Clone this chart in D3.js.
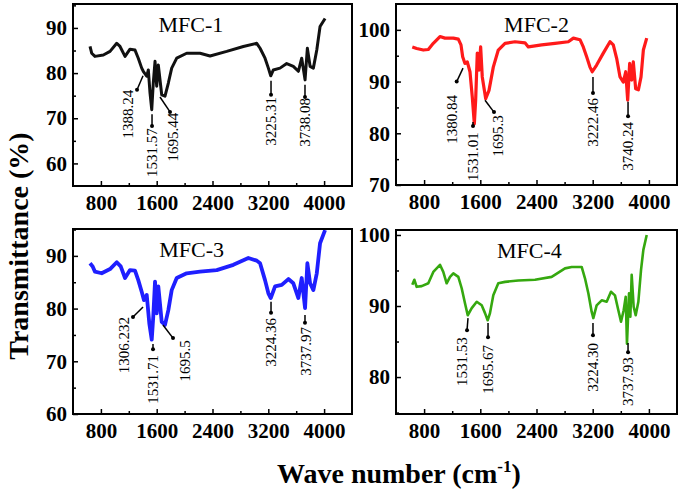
<!DOCTYPE html>
<html>
<head>
<meta charset="utf-8">
<script src="https://cdn.jsdelivr.net/npm/d3@7"></script>
<style>
  body { margin: 0; background: #fff; }
  svg { display: block; }
  text { font-family: "Liberation Serif", "Times New Roman", serif; }
</style>
</head>
<body>
<svg id="chart" width="679" height="495"></svg>
<script>
// Wavenumber (cm-1) / transmittance (%)
const wn1 = [644, 668, 715, 835, 931, 1027, 1074, 1146, 1217, 1289, 1336, 1385, 1408, 1457, 1480, 1504, 1529, 1551, 1576, 1600, 1623, 1672, 1719, 1767, 1815, 1887, 2030, 2221, 2365, 2604, 2842, 3034, 3082, 3153, 3201, 3235, 3272, 3368, 3464, 3559, 3631, 3679, 3727, 3760, 3799, 3846, 3895, 3942, 4014];
const t1 = [85.9, 84.4, 83.7, 84.0, 84.8, 86.6, 85.9, 83.7, 85.3, 85.1, 83.3, 81.1, 80.4, 79.3, 80.7, 75.6, 71.9, 77.8, 82.6, 77.1, 81.8, 75.2, 74.9, 77.8, 81.1, 83.3, 84.4, 84.4, 83.8, 84.8, 85.9, 86.6, 85.5, 83.3, 81.1, 79.4, 80.7, 81.1, 82.1, 81.5, 80.4, 83.3, 78.5, 85.5, 81.5, 81.1, 85.1, 90.3, 92.1];

const wn2 = [632, 694, 789, 860, 931, 1026, 1097, 1216, 1287, 1325, 1349, 1382, 1415, 1453, 1486, 1515, 1534, 1557, 1581, 1605, 1628, 1677, 1724, 1785, 1856, 1952, 2094, 2236, 2284, 2474, 2663, 2853, 2925, 3019, 3066, 3114, 3161, 3194, 3256, 3351, 3446, 3493, 3541, 3589, 3636, 3670, 3698, 3726, 3755, 3778, 3812, 3850, 3888, 3921, 3969];
const t2 = [96.7, 96.4, 96.1, 96.2, 97.4, 98.7, 98.4, 98.4, 98.2, 97.1, 94.8, 93.5, 93.8, 91.9, 87.0, 81.8, 86.4, 95.5, 92.2, 96.7, 90.9, 86.7, 88.3, 92.8, 96.1, 97.4, 97.7, 97.5, 96.7, 97.1, 97.4, 97.7, 98.4, 98.1, 96.7, 94.8, 92.8, 91.9, 93.2, 95.5, 97.7, 97.1, 94.5, 90.9, 89.9, 91.9, 86.4, 93.5, 90.3, 93.8, 88.6, 88.4, 90.9, 96.1, 98.4];

const wn3 = [644, 682, 715, 811, 931, 1027, 1084, 1146, 1217, 1289, 1336, 1385, 1418, 1457, 1494, 1529, 1551, 1576, 1600, 1623, 1672, 1719, 1767, 1815, 1887, 2030, 2221, 2461, 2699, 2914, 3034, 3082, 3153, 3201, 3235, 3297, 3393, 3488, 3559, 3631, 3679, 3727, 3760, 3799, 3846, 3895, 3942, 4014];
const t3 = [88.6, 88.0, 87.0, 86.7, 87.5, 88.8, 88.0, 85.8, 87.3, 87.2, 85.4, 83.2, 81.6, 82.6, 77.2, 74.1, 78.5, 85.1, 79.1, 84.2, 77.5, 76.9, 79.7, 83.5, 85.8, 86.7, 87.0, 87.3, 88.3, 89.6, 89.1, 88.6, 85.4, 82.9, 82.0, 84.2, 84.5, 85.6, 84.8, 82.0, 85.8, 80.1, 88.6, 84.8, 83.5, 86.7, 92.4, 94.9];

const wn4 = [632, 661, 694, 766, 860, 931, 1026, 1073, 1121, 1169, 1216, 1287, 1335, 1382, 1421, 1478, 1549, 1620, 1667, 1705, 1738, 1785, 1856, 1952, 2141, 2379, 2616, 2806, 2901, 3043, 3090, 3138, 3185, 3209, 3256, 3328, 3399, 3460, 3517, 3565, 3603, 3641, 3670, 3688, 3717, 3736, 3755, 3783, 3812, 3850, 3888, 3921, 3969];
const t4 = [93.0, 93.7, 92.7, 92.8, 93.2, 94.8, 95.8, 94.8, 93.2, 94.1, 94.6, 94.1, 92.5, 90.4, 88.7, 89.7, 90.6, 90.1, 89.0, 88.0, 89.0, 91.5, 93.2, 93.4, 93.6, 93.7, 94.1, 95.3, 95.5, 95.5, 93.9, 91.8, 89.2, 88.3, 90.1, 90.8, 90.6, 92.0, 91.5, 89.4, 87.8, 89.4, 91.3, 84.7, 91.8, 88.5, 94.4, 89.9, 88.7, 90.6, 95.1, 97.9, 100.0];

// tick labels
const xTicks = [800, 1600, 2400, 3200, 4000];
const xMinor = [1200, 2000, 2800, 3600];
const yTicks1 = [60, 70, 80, 90];
const yTicks2 = [70, 80, 90, 100];
const yTicks3 = [60, 70, 80, 90];
const yTicks4 = [80, 90, 100];

// peak labels: text, arrow tip / tail and label top, all in [wavenumber, %T]
const notes1 = [
  { text: "1388.24", tip: [1404, 79.4], tail: [1318, 76.3], label: [1189, 76.3] },
  { text: "1531.57", tip: [1533, 70.9], tail: [1533, 68.3], label: [1533, 67.8] },
  { text: "1695.44", tip: [1647, 74.7], tail: [1791, 71.4], label: [1834, 71.2] },
  { text: "3225.31", tip: [3239, 78.3], tail: [3239, 75.2], label: [3239, 74.7] },
  { text: "3738.08", tip: [3726, 77.4], tail: [3726, 74.7], label: [3726, 74.5] }
];
const notes2 = [
  { text: "1380.84", tip: [1354, 92.6], tail: [1264, 90.0], label: [1197, 87.4] },
  { text: "1531.01", tip: [1496, 82.2], tail: [1496, 81.4], label: [1496, 80.2] },
  { text: "1695.3", tip: [1667, 86.4], tail: [1795, 84.1], label: [1852, 83.5] },
  { text: "3222.46", tip: [3204, 90.9], tail: [3204, 87.8], label: [3204, 86.8] },
  { text: "3740.24", tip: [3703, 86.1], tail: [3703, 83.3], label: [3703, 82.2] }
];
const notes3 = [
  { text: "1306.232", tip: [1404, 80.3], tail: [1260, 78.4], label: [1131, 78.4] },
  { text: "1531.71", tip: [1547, 73.3], tail: [1547, 72.3], label: [1547, 71.2] },
  { text: "1695.5", tip: [1690, 76.9], tail: [1834, 74.4], label: [2006, 74.0] },
  { text: "3224.36", tip: [3239, 81.3], tail: [3239, 79.2], label: [3239, 78.2] },
  { text: "3737.97", tip: [3726, 78.8], tail: [3726, 77.3], label: [3741, 76.5] }
];
const notes4 = [
  { text: "1531.53", tip: [1425, 88.3], tail: [1411, 86.6], label: [1340, 85.6] },
  { text: "1695.67", tip: [1710, 87.6], tail: [1710, 85.6], label: [1710, 84.5] },
  { text: "3224.30", tip: [3204, 87.6], tail: [3204, 85.9], label: [3204, 84.8] },
  { text: "3737.93", tip: [3703, 84.8], tail: [3703, 83.5], label: [3703, 82.8] }
];

const xDomain = [400, 4400];

const panels = [
  { name: "MFC-1", wn: wn1, t: t1, yTicks: yTicks1, notes: notes1, yDomain: [55, 95.3], color: "#111", lw: 3,
    box: [73, 352, 4, 186], titleWn: 2090 },
  { name: "MFC-2", wn: wn2, t: t2, yTicks: yTicks2, notes: notes2, yDomain: [70, 105], color: "#ff1a1a", lw: 3.2,
    box: [396, 677, 4, 185], titleWn: 2400 },
  { name: "MFC-3", wn: wn3, t: t3, yTicks: yTicks3, notes: notes3, yDomain: [60, 95.1], color: "#1f1fff", lw: 3.8,
    box: [73, 352, 229, 414], titleWn: 2100 },
  { name: "MFC-4", wn: wn4, t: t4, yTicks: yTicks4, notes: notes4, yDomain: [74.8, 100.7], color: "#35a80f", lw: 2.6,
    box: [396, 677, 230, 414], titleWn: 2300 }
];

const svg = d3.select('#chart');

panels.forEach(p => {
  const [x0, x1, y0, y1] = p.box;
  const x = d3.scaleLinear().domain(xDomain).range([x0, x1]);
  const y = d3.scaleLinear().domain(p.yDomain).range([y1, y0]);
  const g = svg.append('g');

  // spectrum
  const line = d3.line().x(d => x(d[0])).y(d => y(d[1]));
  g.append('path')
    .datum(p.wn.map((w, i) => [w, p.t[i]]))
    .attr('d', line)
    .attr('fill', 'none')
    .attr('stroke', p.color)
    .attr('stroke-width', p.lw)
    .attr('stroke-linejoin', 'round');

  // axes, ticks pointing inward
  const styleAxis = a => {
    a.select('.domain').remove();
    a.selectAll('line').attr('stroke', '#000').attr('stroke-width', 1.5);
    a.selectAll('text')
      .attr('fill', '#000')
      .style('font-family', '"Liberation Serif", serif')
      .style('font-weight', 'bold')
      .style('font-size', '21px');
  };

  g.append('g')
    .attr('transform', `translate(0,${y1})`)
    .call(d3.axisBottom(x).tickValues(xTicks).tickSize(-5).tickPadding(9).tickFormat(d3.format('d')))
    .call(styleAxis);
  g.append('g')
    .attr('transform', `translate(0,${y1})`)
    .call(d3.axisBottom(x).tickValues(xMinor).tickSize(-3).tickFormat(''))
    .call(styleAxis);

  const yMinor = d3.range(Math.ceil(p.yDomain[0] / 5) * 5, p.yDomain[1], 5)
    .filter(v => !p.yTicks.includes(v) && v > p.yDomain[0]);
  g.append('g')
    .attr('transform', `translate(${x0},0)`)
    .call(d3.axisLeft(y).tickValues(p.yTicks).tickSize(-5).tickPadding(6))
    .call(styleAxis);
  g.append('g')
    .attr('transform', `translate(${x0},0)`)
    .call(d3.axisLeft(y).tickValues(yMinor).tickSize(-3).tickFormat(''))
    .call(styleAxis);

  // frame
  g.append('rect')
    .attr('x', x0).attr('y', y0)
    .attr('width', x1 - x0).attr('height', y1 - y0)
    .attr('fill', 'none')
    .attr('stroke', '#000')
    .attr('stroke-width', 2);

  // panel name
  g.append('text')
    .attr('x', x(p.titleWn))
    .attr('y', y0 + 28)
    .attr('text-anchor', 'middle')
    .style('font-size', '22px')
    .text(p.name);

  // peak arrows and labels
  const n = g.selectAll('g.note').data(p.notes).enter().append('g').attr('class', 'note');
  n.append('line')
    .attr('x1', d => x(d.tail[0])).attr('y1', d => y(d.tail[1]))
    .attr('x2', d => x(d.tip[0])).attr('y2', d => y(d.tip[1]))
    .attr('stroke', '#000')
    .attr('stroke-width', 1.5);
  n.append('circle')
    .attr('cx', d => x(d.tail[0])).attr('cy', d => y(d.tail[1]))
    .attr('r', 2)
    .attr('fill', '#000');
  n.append('text')
    .attr('transform', d => `translate(${x(d.label[0])},${y(d.label[1])}) rotate(-90)`)
    .attr('text-anchor', 'end')
    .attr('dy', '0.35em')
    .style('font-size', '15px')
    .text(d => d.text);
});

// shared axis titles
svg.append('text')
  .attr('transform', 'translate(28,246) rotate(-90)')
  .attr('text-anchor', 'middle')
  .style('font-size', '28px')
  .style('font-weight', 'bold')
  .text('Transmittance (%)');

const xt = svg.append('text')
  .attr('x', 277)
  .attr('y', 483)
  .style('font-size', '28px')
  .style('font-weight', 'bold');
xt.append('tspan').text('Wave number (cm');
xt.append('tspan').attr('dy', -11).style('font-size', '17px').text('-1');
xt.append('tspan').attr('dy', 11).text(')');
</script>
</body>
</html>
